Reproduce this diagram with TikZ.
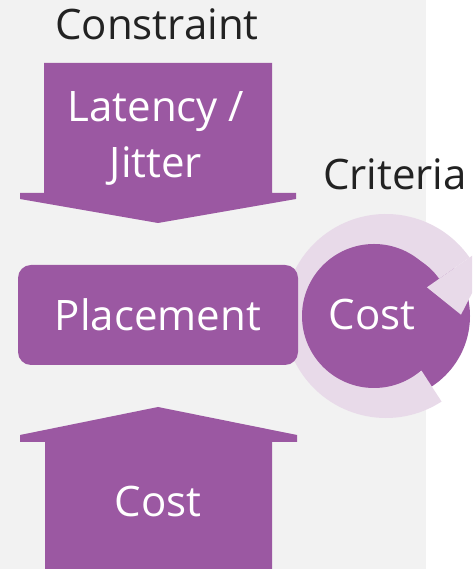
\documentclass[tikz,border=0pt]{standalone}
\usepackage{fontspec}
\setmainfont{Open Sans}
\usetikzlibrary{calc}
\definecolor{purp}{HTML}{9B58A2}
\definecolor{lightp}{HTML}{E8DAE9}
\definecolor{bggray}{HTML}{F2F2F2}
\definecolor{txtdark}{HTML}{222222}
\begin{document}
\begin{tikzpicture}[x=1pt,y=1pt,
  bigtext/.style={font=\fontsize{42}{56}\selectfont, inner sep=0pt},
  wtext/.style={bigtext, text=white},
  dtext/.style={bigtext, text=txtdark},
  shapefill/.style={fill=purp, draw=none}]
\useasboundingbox (0,0) rectangle (472,569);
\clip (0,0) rectangle (472,569);
\fill[bggray] (0,0) rectangle (426,569);
% down arrow
\path[shapefill] (44,506) -- (272,506) -- (272,376) -- (296,376) -- (296,370) -- (158,346) -- (20,370) -- (20,376) -- (44,376) -- cycle;
% up arrow
\path[shapefill] (158,162) -- (297,134) -- (297,127) -- (272,127) -- (272,0) -- (45,0) -- (45,127) -- (20,127) -- (20,134) -- cycle;
% circular arrow
\coordinate (rc) at (386,253);
\fill[purp] (rc) circle[radius=84];
\fill[lightp] ($(rc)+(35:102)$) arc[start angle=35,end angle=303,radius=102] -- ($(rc)+(303:65)$) arc[start angle=303,end angle=35,radius=65] -- cycle;
\node[circle, fill=purp, minimum size=144pt, inner sep=0pt] (costc) at (374,253) {};
\fill[lightp] ($(rc)+(35:50)$) -- ($(rc)+(35:141)$) -- ($(rc)+(1:75)$) -- cycle;
% placement box
\node[shapefill, rounded corners=13pt, minimum width=280pt, minimum height=100pt, inner sep=0pt] (place) at (158,254) {};
% texts
\node[dtext, anchor=base] (constraint) at (157,529) {Constraint};
\node[wtext, anchor=base] (lat) at (156,447) {Latency /};
\node[wtext, anchor=base] (jit) at (156,391) {Jitter};
\node[wtext, anchor=base] (ptext) at (158,238) {Placement};
\node[wtext, anchor=base] (ctext) at (372,239) {Cost};
\node[wtext, anchor=base] (btext) at (158,52) {Cost};
\node[dtext, anchor=base] (crit) at (395,379) {Criteria};
\end{tikzpicture}
\end{document}
